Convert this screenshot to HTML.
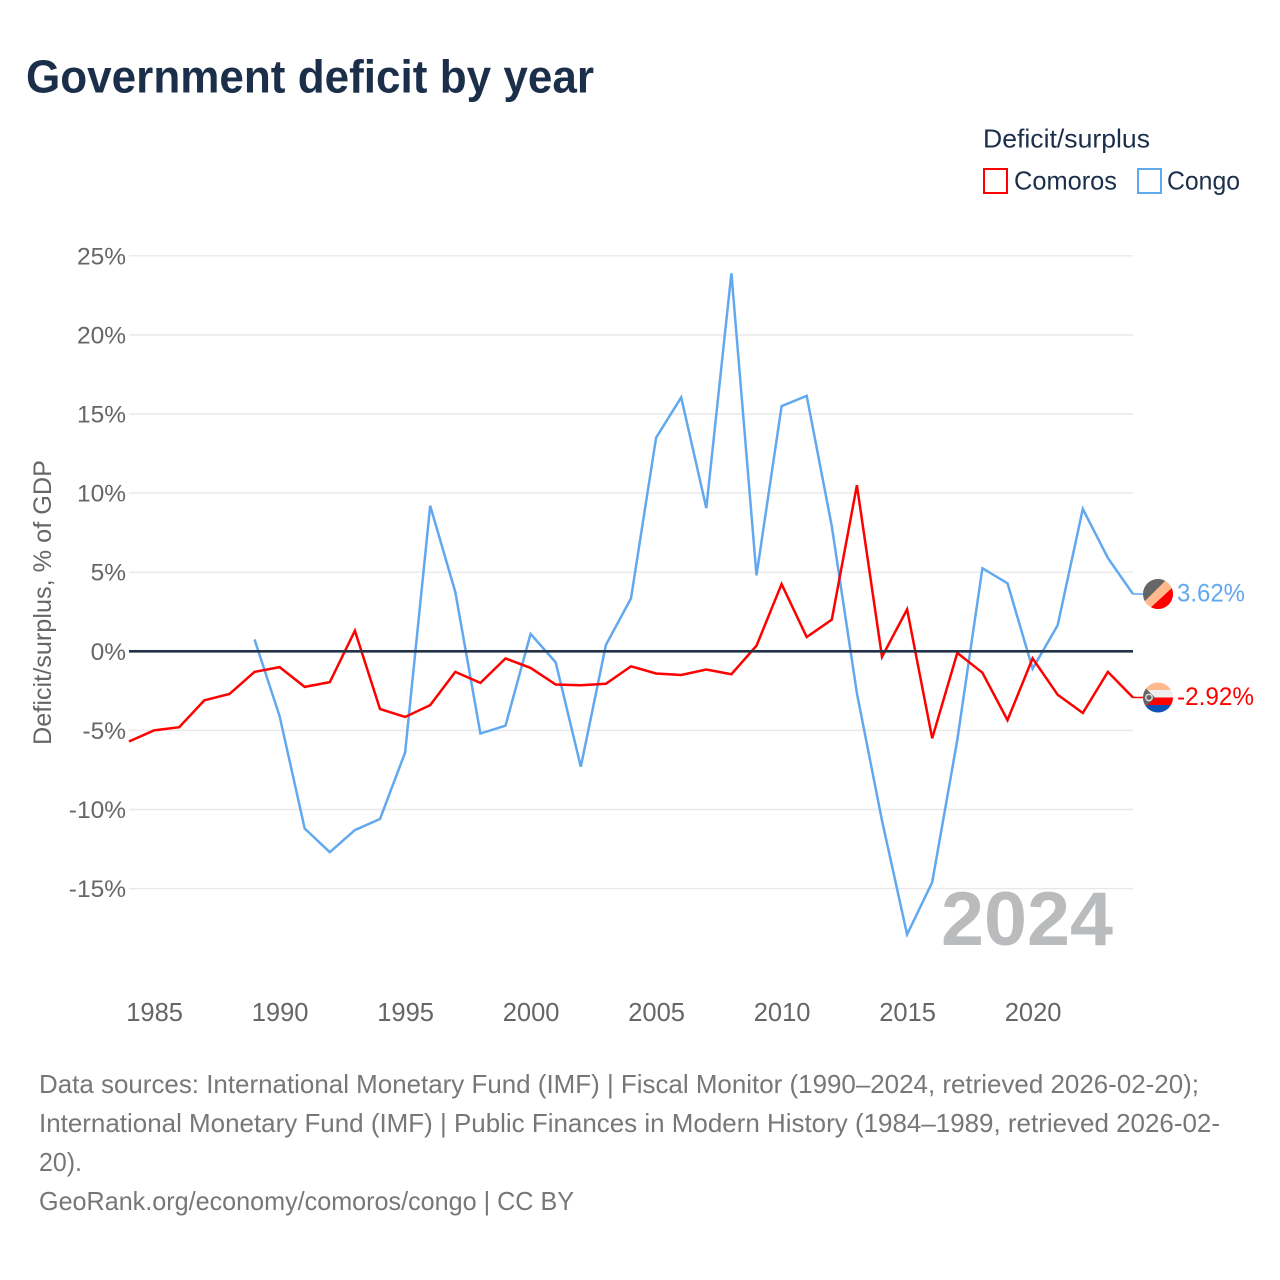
<!DOCTYPE html>
<html lang="en">
<head>
<meta charset="utf-8">
<title>Government deficit by year</title>
<style>
html,body{margin:0;padding:0;background:#fff;width:1280px;height:1280px;overflow:hidden}
svg{display:block}
text{font-family:"Liberation Sans",sans-serif}
</style>
</head>
<body>
<svg id="chart" xmlns="http://www.w3.org/2000/svg" width="1280" height="1280" viewBox="0 0 1280 1280">
  <defs>
    <clipPath id="flag-clip"><circle cx="0" cy="0" r="15"/></clipPath>
  </defs>
  <rect width="1280" height="1280" fill="#fff"/>
  <text x="26" y="92.5" font-size="46" font-weight="700" fill="#1c2f4a" textLength="568" lengthAdjust="spacingAndGlyphs">Government deficit by year</text>

  <g>
    <text x="983" y="147.5" font-size="26" fill="#1c2f4a" textLength="167" lengthAdjust="spacingAndGlyphs">Deficit/surplus</text>
    <rect x="984" y="169" width="23" height="24" fill="#fff" stroke="#ff0000" stroke-width="2"/>
    <text x="1014" y="189.5" font-size="26" fill="#1c2f4a" textLength="103" lengthAdjust="spacingAndGlyphs">Comoros</text>
    <rect x="1138" y="169" width="23" height="24" fill="#fff" stroke="#62a8ee" stroke-width="2"/>
    <text x="1167" y="189.5" font-size="26" fill="#1c2f4a" textLength="73" lengthAdjust="spacingAndGlyphs">Congo</text>
  </g>

  <text transform="translate(51,745) rotate(-90)" font-size="25" fill="#666" textLength="285" lengthAdjust="spacingAndGlyphs">Deficit/surplus, % of GDP</text>

  <g id="grid"></g>
  <g id="yticks"></g>
  <g id="xticks"></g>

  <text x="941" y="945" font-size="76" font-weight="700" fill="#babbbd" textLength="172" lengthAdjust="spacingAndGlyphs">2024</text>

  <g id="series"></g>
  <line id="zero" stroke="#243247" stroke-width="2.6"/>
  <g id="ends"></g>

  <g font-size="26" fill="#777">
    <text x="39" y="1093" textLength="1160" lengthAdjust="spacingAndGlyphs">Data sources: International Monetary Fund (IMF) | Fiscal Monitor (1990–2024, retrieved 2026-02-20);</text>
    <text x="39" y="1132" textLength="1181" lengthAdjust="spacingAndGlyphs">International Monetary Fund (IMF) | Public Finances in Modern History (1984–1989, retrieved 2026-02-</text>
    <text x="39" y="1171" textLength="43" lengthAdjust="spacingAndGlyphs">20).</text>
    <text x="39" y="1210" textLength="535" lengthAdjust="spacingAndGlyphs">GeoRank.org/economy/comoros/congo | CC BY</text>
  </g>
</svg>
<script>
const yearStart = 1984;
const yearEnd = 2024;
const yTickValues = [-15, -10, -5, 0, 5, 10, 15, 20, 25];
const xTickYears = [1985, 1990, 1995, 2000, 2005, 2010, 2015, 2020];
const comorosYears = [1984,1985,1986,1987,1988,1989,1990,1991,1992,1993,1994,1995,1996,1997,1998,1999,2000,2001,2002,2003,2004,2005,2006,2007,2008,2009,2010,2011,2012,2013,2014,2015,2016,2017,2018,2019,2020,2021,2022,2023,2024];
const comorosValues = [-5.7,-5.0,-4.8,-3.1,-2.7,-1.3,-1.0,-2.25,-1.95,1.3,-3.65,-4.15,-3.4,-1.3,-2.0,-0.45,-1.05,-2.1,-2.15,-2.05,-0.95,-1.4,-1.5,-1.15,-1.45,0.35,4.25,0.9,2.0,10.5,-0.35,2.65,-5.5,-0.1,-1.35,-4.35,-0.45,-2.75,-3.9,-1.3,-2.92];
const congoYears = [1989,1990,1991,1992,1993,1994,1995,1996,1997,1998,1999,2000,2001,2002,2003,2004,2005,2006,2007,2008,2009,2010,2011,2012,2013,2014,2015,2016,2017,2018,2019,2020,2021,2022,2023,2024];
const congoValues = [0.75,-4.1,-11.2,-12.7,-11.3,-10.6,-6.4,9.2,3.75,-5.2,-4.7,1.1,-0.7,-7.3,0.4,3.35,13.5,16.05,9.05,23.9,4.8,15.5,16.15,7.9,-2.65,-10.7,-17.9,-14.6,-5.6,5.25,4.3,-1.1,1.65,9.0,5.9,3.62];

const NS = 'http://www.w3.org/2000/svg';
const plotLeft = 129, plotRight = 1133, zeroY = 651.3, pxPerUnit = 15.82;
function xScale(year){ return plotLeft + (year - yearStart) * (plotRight - plotLeft) / (yearEnd - yearStart); }
function yScale(v){ return zeroY - v * pxPerUnit; }
function make(tag, attrs, parent){
  const el = document.createElementNS(NS, tag);
  for (const k in attrs) el.setAttribute(k, attrs[k]);
  parent.appendChild(el);
  return el;
}
function fmtTick(v){ return v + '%'; }

const grid = document.getElementById('grid');
const yticks = document.getElementById('yticks');
yTickValues.forEach(function(v){
  if (v !== 0) {
    const gl = make('line', {x1: plotLeft, x2: plotRight, y1: yScale(v), y2: yScale(v), stroke: '#e8e8e8', 'stroke-width': 1.4}, grid);
    
    
  }
  const t = make('text', {x: 126, y: yScale(v) + 8.5, 'text-anchor': 'end', 'font-size': 24.5, fill: '#666'}, yticks);
  t.textContent = fmtTick(v);
  
  
});

const xticks = document.getElementById('xticks');
xTickYears.forEach(function(y){
  const t = make('text', {x: xScale(y) + 0.5, y: 1021, 'text-anchor': 'middle', 'font-size': 25.5, fill: '#666'}, xticks);
  t.textContent = String(y);
  
  
});

const zero = document.getElementById('zero');
zero.setAttribute('x1', plotLeft);
zero.setAttribute('x2', plotRight);
zero.setAttribute('y1', yScale(0));
zero.setAttribute('y2', yScale(0));

function linePoints(years, values){
  return years.map(function(y, i){ return xScale(y).toFixed(2) + ',' + yScale(values[i]).toFixed(2); }).join(' ');
}
const series = document.getElementById('series');
const congoLine = make('polyline', {points: linePoints(congoYears, congoValues), fill: 'none', stroke: '#62a8ee', 'stroke-width': 2.5, 'stroke-linejoin': 'miter'}, series);


const comorosLine = make('polyline', {points: linePoints(comorosYears, comorosValues), fill: 'none', stroke: '#ff0000', 'stroke-width': 2.5, 'stroke-linejoin': 'miter'}, series);



const ends = document.getElementById('ends');
function endMarker(value, color, name, draw, labelWidth){
  const cy = yScale(value);
  const conn = make('line', {x1: plotRight, x2: 1145, y1: cy, y2: cy, stroke: color, 'stroke-width': 1.5}, ends);
  
  
  const g = make('g', {transform: 'translate(1158,' + cy.toFixed(2) + ')', 'clip-path': 'url(#flag-clip)'}, ends);
  
  
  draw(g);
  const t = make('text', {x: 1177, y: cy + 7.5, 'font-size': 25, fill: color, textLength: labelWidth, lengthAdjust: 'spacingAndGlyphs'}, ends);
  t.textContent = value.toFixed(2) + '%';
  
  
}
function drawCongoFlag(g){
  make('rect', {x: -16, y: -16, width: 32, height: 32, fill: '#ffb98d'}, g);
  make('polygon', {points: '-16,-16 10,-16 -16,10', fill: '#666666'}, g);
  make('polygon', {points: '16,-8 16,16 -10,16', fill: '#ff0000'}, g);
}
function drawComorosFlag(g){
  make('rect', {x: -16, y: -16, width: 32, height: 8.5, fill: '#ffb98d'}, g);
  make('rect', {x: -16, y: -7.5, width: 32, height: 7.5, fill: '#efefef'}, g);
  make('rect', {x: -16, y: 0, width: 32, height: 7.5, fill: '#ff0000'}, g);
  make('rect', {x: -16, y: 7.5, width: 32, height: 8.5, fill: '#0a52b8'}, g);
  make('polygon', {points: '-16,-13 -3,0 -16,13', fill: '#666666'}, g);
  make('circle', {cx: -9, cy: 0, r: 3.2, fill: 'none', stroke: '#e6e6e6', 'stroke-width': 1.3}, g);
}
endMarker(congoValues[congoValues.length - 1], '#62a8ee', 'congo', drawCongoFlag, 68);
endMarker(comorosValues[comorosValues.length - 1], '#ff0000', 'comoros', drawComorosFlag, 77);
</script>
</body>
</html>
